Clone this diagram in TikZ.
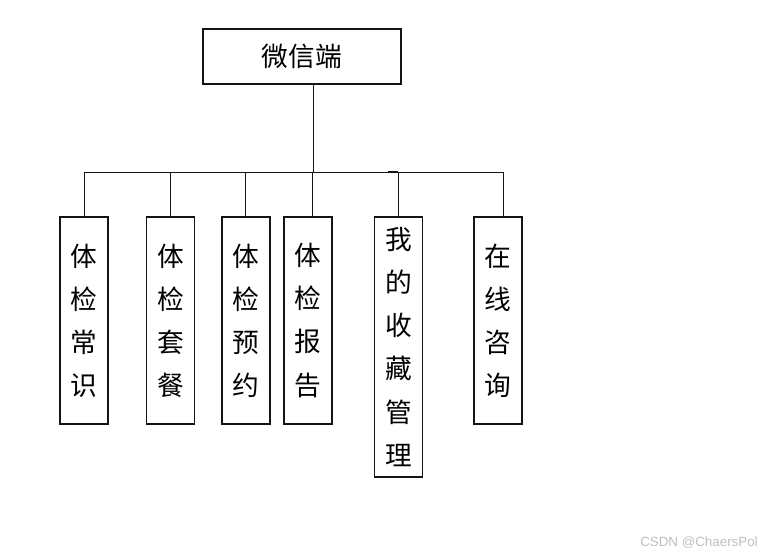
\documentclass[tikz,border=0pt]{standalone}
\usepackage{fontspec}
\newfontfamily\cjk{Noto Sans CJK SC}
\newfontfamily\wmfont{Liberation Sans}
\usetikzlibrary{positioning}
\definecolor{wline}{RGB}{20, 20, 20}
\definecolor{wmark}{RGB}{190, 190, 190}

\begin{document}
\begin{tikzpicture}[
  rootbox/.style={rectangle, draw=wline, line width=0.8pt, fill=white,
                  minimum width=4.95cm, minimum height=1.375cm, inner sep=0pt,
                  font=\cjk\fontsize{19}{22}\selectfont},
  modbox/.style={rectangle, draw=wline, line width=0.8pt, fill=white,
                 minimum width=1.2cm, minimum height=5.175cm, inner sep=0pt,
                 align=center, font=\cjk\fontsize{19}{30.6}\selectfont},
  wire/.style={wline, line width=0.7pt},
  wmbox/.style={font=\wmfont\fontsize{9.5}{11}\selectfont, text=wmark, inner sep=0pt}
]
\useasboundingbox (0,0) rectangle (19.2,-13.925);

% Root
\node[rootbox] (root) at (7.55,-1.4125) {微信端};

% Modules
\node[modbox] (m1) at (2.1,-8.0125)    {体\\检\\常\\识};
\node[modbox] (m2) at (4.2625,-8.0125) {体\\检\\套\\餐};
\node[modbox] (m3) at (6.15,-8.0125)   {体\\检\\预\\约};
\node[modbox] (m4) at (7.7,-8.0125)    {体\\检\\报\\告};
\node[modbox, minimum height=6.5cm] (m5) at (9.9625,-8.675) {我\\的\\收\\藏\\管\\理};
\node[modbox] (m6) at (12.45,-8.0125)  {在\\线\\咨\\询};

% Bus junctions
\coordinate (trunk) at (7.825,-4.3);
\coordinate (j1) at (2.1,-4.3);
\coordinate (j2) at (4.25,-4.3);
\coordinate (j3) at (6.125,-4.3);
\coordinate (j4) at (7.8,-4.3);
\coordinate (j5) at (9.95,-4.3);
\coordinate (j6) at (12.575,-4.3);

% Trunk and bus
\draw[wire] (root.south -| trunk) -- (trunk);
\draw[wire] (j1) -- (j6);
\draw[wire, line width=1.2pt] (9.7,-4.29) -- (9.95,-4.29);

% Drops
\draw[wire] (j1) -- (j1 |- m1.north);
\draw[wire] (j2) -- (j2 |- m2.north);
\draw[wire] (j3) -- (j3 |- m3.north);
\draw[wire] (j4) -- (j4 |- m4.north);
\draw[wire] (j5) -- (j5 |- m5.north);
\draw[wire] (j6) -- (j6 |- m6.north);

% Watermark
\node[wmbox, anchor=east] (wm) at (18.95,-13.575) {CSDN @ChaersPol};

\end{tikzpicture}
\end{document}
